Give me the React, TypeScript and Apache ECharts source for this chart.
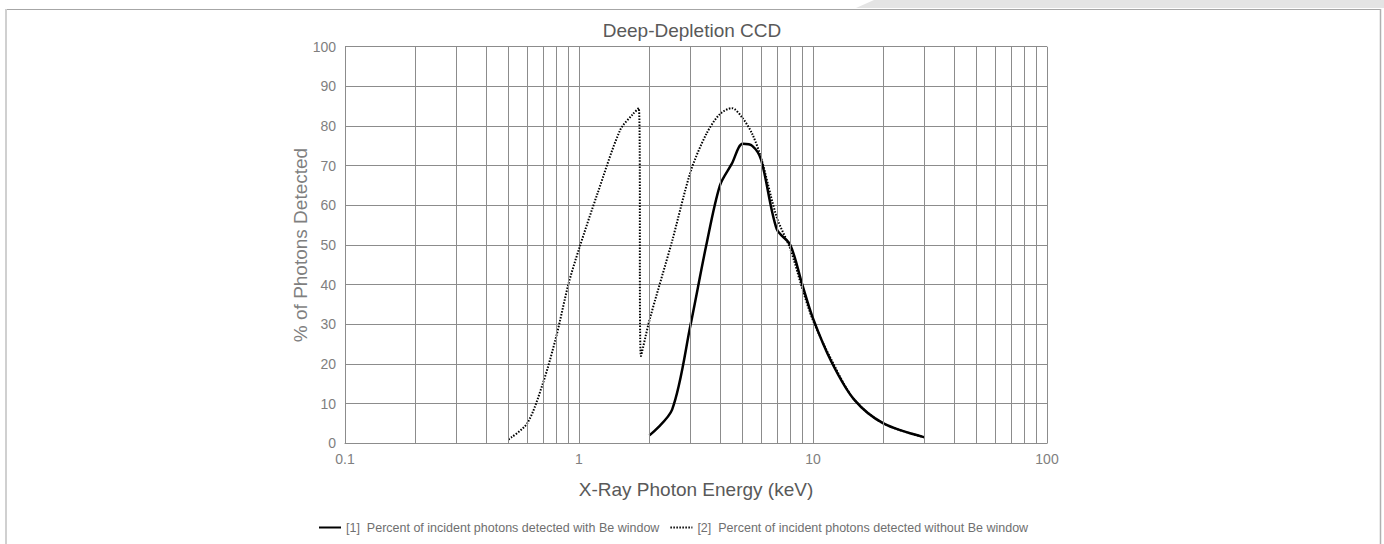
import React, { useEffect, useRef } from "react";
import * as echarts from "echarts";

const titleText = "Deep-Depletion CCD";
const xAxisName = "X-Ray Photon Energy (keV)";
const yAxisName = "% of Photons Detected";

const seriesNames = [
  "[1]  Percent of incident photons detected with Be window",
  "[2]  Percent of incident photons detected without Be window",
];

// [1] with Be window
const withBeEnergy = [2, 2.5, 3, 3.5, 4, 4.5, 5, 5.5, 6, 7, 8, 9, 10, 12, 15, 20, 30];
const withBeValues = [2, 8.5, 30, 50, 65, 70.5, 75.5, 75, 71.5, 54, 50, 40, 31.5, 20.5, 11, 5, 1.5];

// [2] without Be window
const noBeEnergy = [0.5, 0.6, 0.7, 0.8, 0.9, 1, 1.2, 1.5, 1.7, 1.8, 1.84, 2, 2.5, 3, 3.5, 4, 4.5, 5, 5.5, 6, 7, 8, 9, 10, 12, 15, 20, 30];
const noBeValues = [1, 5, 15, 27, 40, 49, 63, 79, 83, 84.5, 22, 31, 51, 68.5, 78, 83, 84.5, 82, 78, 72, 57, 49, 39, 31, 21, 11, 5, 1.5];

// minor vertical gridlines of the log axis
const minorGridX = [0.2, 0.3, 0.4, 0.5, 0.6, 0.7, 0.8, 0.9, 2, 3, 4, 5, 6, 7, 8, 9, 20, 30, 40, 50, 60, 70, 80, 90];

const FONT = "'Liberation Sans', Arial, sans-serif";
const GRID = "#8c8c8c";

export default function App() {
  const ref = useRef<HTMLDivElement>(null);
  useEffect(() => {
    if (!ref.current) return;
    const chart = echarts.init(ref.current, undefined, { renderer: "svg" });
    const pair = (xs: number[], ys: number[]) => xs.map((x, i) => [x, ys[i]]);
    chart.setOption({
      animation: false,
      backgroundColor: "#ffffff",
      title: {
        text: titleText,
        left: "center",
        top: 16,
        textStyle: { fontFamily: FONT, fontSize: 19, fontWeight: "normal", color: "#595959" },
      },
      grid: { left: 345, right: 337, top: 46.7, bottom: 100.7, outerBoundsMode: "none" },
      legend: {
        top: 516,
        left: 313,
        itemWidth: 22,
        itemHeight: 10,
        itemGap: 10,
        data: seriesNames,
        itemStyle: { opacity: 0 },
        textStyle: { fontFamily: FONT, fontSize: 12.5, color: "#6f6f6f" },
      },
      xAxis: {
        type: "log",
        logBase: 10,
        min: 0.1,
        max: 100,
        name: xAxisName,
        nameLocation: "middle",
        nameGap: 37,
        nameMoveOverlap: false,
        nameTextStyle: { fontFamily: FONT, fontSize: 19, color: "#595959" },
        axisLine: { show: true, lineStyle: { color: GRID, width: 1 } },
        axisTick: { show: false },
        axisLabel: { fontFamily: FONT, fontSize: 14, color: "#7f7f7f", margin: 9 },
        splitLine: { show: true, lineStyle: { color: GRID, width: 1 } },
      },
      yAxis: {
        type: "value",
        min: 0,
        max: 100,
        interval: 10,
        name: yAxisName,
        nameLocation: "middle",
        nameGap: 35,
        nameMoveOverlap: false,
        nameTextStyle: { fontFamily: FONT, fontSize: 19, color: "#7f7f7f" },
        axisLine: { show: false },
        axisTick: { show: false },
        axisLabel: { fontFamily: FONT, fontSize: 14, color: "#7f7f7f", margin: 9 },
        splitLine: { show: true, lineStyle: { color: GRID, width: 1 } },
      },
      series: [
        {
          name: "minor-grid",
          type: "line",
          data: [],
          silent: true,
          markLine: {
            silent: true,
            symbol: "none",
            label: { show: false },
            lineStyle: { color: GRID, width: 1, type: "solid" },
            data: minorGridX.map((v) => ({ xAxis: v })),
          },
        },
        {
          name: seriesNames[0],
          type: "line",
          data: pair(withBeEnergy, withBeValues),
          showSymbol: false,
          symbol: "none",
          smooth: 0.3,
          z: 4,
          lineStyle: { color: "#000000", width: 2.5, type: "solid" },
          itemStyle: { color: "#000000" },
        },
        {
          name: seriesNames[1],
          type: "line",
          data: pair(noBeEnergy, noBeValues),
          showSymbol: false,
          symbol: "none",
          smooth: 0.3,
          z: 3,
          lineStyle: { color: "#000000", width: 2, type: [1.5, 1.5] },
          itemStyle: { color: "#000000" },
        },
      ],
      graphic: [
        {
          type: "polygon",
          silent: true,
          shape: { points: [[856, 8], [874, 0], [1384, 0], [1384, 8]] },
          style: { fill: "#e4e4e4" },
        },
        {
          type: "line",
          silent: true,
          shape: { x1: 5, y1: 9.5, x2: 1381, y2: 9.5 },
          style: { stroke: "#a6a6a6", lineWidth: 1 },
        },
        {
          type: "line",
          silent: true,
          shape: { x1: 6, y1: 9, x2: 6, y2: 544 },
          style: { stroke: "#d0d0d0", lineWidth: 2 },
        },
        {
          type: "line",
          silent: true,
          shape: { x1: 1380.5, y1: 9, x2: 1380.5, y2: 544 },
          style: { stroke: "#b0b0b0", lineWidth: 1.5 },
        },
      ],
    });
    return () => chart.dispose();
  }, []);
  return (
    <div
      ref={ref}
      style={{ position: "fixed", left: 0, top: 0, width: 1384, height: 544, background: "#fff" }}
    />
  );
}
